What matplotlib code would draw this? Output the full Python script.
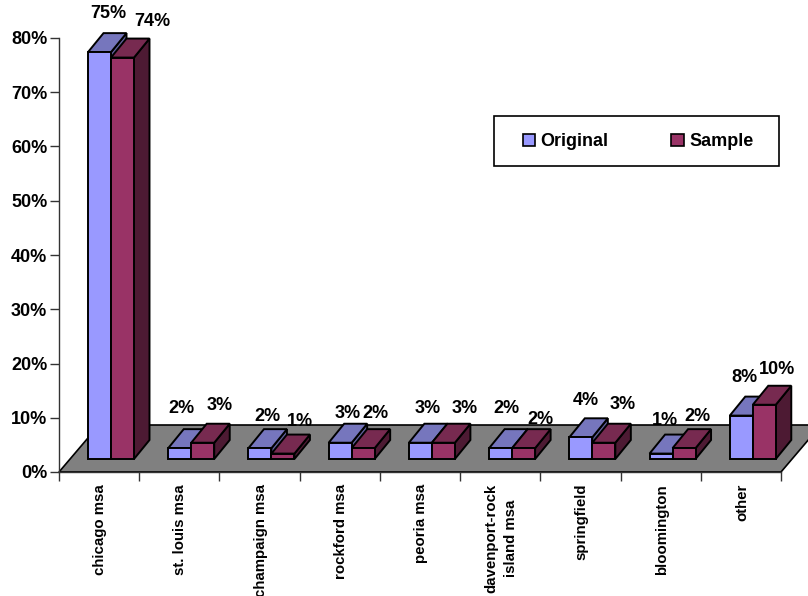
import matplotlib
matplotlib.use('Agg')
import matplotlib.pyplot as plt
from matplotlib.patches import Polygon, Rectangle

plt.rcParams['font.family'] = ['Liberation Sans', 'DejaVu Sans']
plt.rcParams['font.weight'] = 'bold'

categories = ['chicago msa', 'st. louis msa', 'champaign msa', 'rockford msa', 'peoria msa',
              'davenport-rock\nisland msa', 'springfield', 'bloomington', 'other']
original = [75, 2, 2, 3, 3, 2, 4, 1, 8]
sample = [74, 3, 1, 2, 3, 2, 3, 2, 10]
y_ticks = [0, 10, 20, 30, 40, 50, 60, 70, 80]

# label nudges from the top of each bar front, in pixels
original_nudge = [(8.5, 38.5), (2, 39.5), (7, 31.5), (8, 29.5), (7, 34.5), (5.5, 39.5), (5, 36.5), (4, 33.5), (3, 38.5)]
sample_nudge = [(29.5, 36), (17, 37.5), (17, 32), (12, 34.5), (21, 34.5), (16.5, 28.5), (19, 38.5), (13, 31.5), (13, 35.5)]

W, H = 808, 596
PX_X = 722 / 9.0    # pixels per category
PX_Y = 434 / 80.0   # pixels per percent

BAR_START = 29 / PX_X
BAR_W = 23 / PX_X
BASE = 13 / PX_Y
DEPTH_X = 15.5 / PX_X
DEPTH_Y = 19 / PX_Y
FLOOR_X = 40 / PX_X
FLOOR_Y = 47 / PX_Y


def add_box(ax, x, value, colors):
    # one extruded bar: side and top first, then the front face
    x0, x1 = x, x + BAR_W
    y0, y1 = BASE, BASE + value
    front = [(x0, y0), (x1, y0), (x1, y1), (x0, y1)]
    top = [(x0, y1), (x1, y1), (x1 + DEPTH_X, y1 + DEPTH_Y), (x0 + DEPTH_X, y1 + DEPTH_Y)]
    side = [(x1, y0), (x1 + DEPTH_X, y0 + DEPTH_Y), (x1 + DEPTH_X, y1 + DEPTH_Y), (x1, y1)]
    for pts, c in zip((side, top, front), colors):
        ax.add_patch(Polygon(pts, closed=True, facecolor=c, edgecolor='black', lw=1.4,
                             joinstyle='miter', clip_on=False, zorder=3))


def main():
    fig = plt.figure(figsize=(W / 100.0, H / 100.0), dpi=100)
    ax = fig.add_axes([59.0 / W, (H - 472.0) / H, 722.0 / W, 434.0 / H])
    ax.set_xlim(0, 9)
    ax.set_ylim(0, 80)

    # grey floor behind the bars, runs off the right edge of the figure
    floor = [(0, 0), (9, 0), (9 + FLOOR_X, FLOOR_Y), (FLOOR_X, FLOOR_Y)]
    ax.add_patch(Polygon(floor, closed=True, facecolor='#808080', edgecolor='black', lw=1.2,
                         clip_on=False, zorder=1))

    for i in range(len(categories)):
        x = i + BAR_START
        add_box(ax, x, original[i], ('#5f5f99', '#7676bd', '#9999ff'))
        add_box(ax, x + BAR_W, sample[i], ('#4d1a33', '#772a50', '#993366'))

    for i in range(len(categories)):
        pairs = ((original, original_nudge[i], BAR_START + BAR_W / 2),
                 (sample, sample_nudge[i], BAR_START + BAR_W * 1.5))
        for vals, nudge, off in pairs:
            ax.annotate('%d%%' % vals[i], xy=(i + off, BASE + vals[i]), xytext=nudge,
                        textcoords='offset pixels', ha='center', va='center',
                        fontsize=13, annotation_clip=False, zorder=5)

    for s in ('top', 'right'):
        ax.spines[s].set_visible(False)
    for s in ('left', 'bottom'):
        ax.spines[s].set_color('#333333')
        ax.spines[s].set_linewidth(1.0)
        ax.spines[s].set_zorder(2)
    ax.patch.set_visible(False)

    ax.set_yticks(y_ticks)
    ax.set_yticklabels(['%d%%' % v for v in y_ticks], fontsize=13)
    ax.tick_params(axis='y', length=6.5, width=1.0, color='#333333', pad=2)
    ax.set_xticks(range(len(categories) + 1))
    ax.set_xticklabels([])
    ax.tick_params(axis='x', length=6.5, width=1.0, color='#333333')

    for i, name in enumerate(categories):
        ax.annotate(name, xy=(i + 0.5, 0), xytext=(1, -12), textcoords='offset pixels',
                    rotation=90, ha='center', va='top', multialignment='center',
                    fontsize=10.8, annotation_clip=False, linespacing=1.45)

    fig.add_artist(Rectangle((494.0 / W, (H - 166.0) / H), 285.0 / W, 50.0 / H, transform=fig.transFigure,
                             facecolor='white', edgecolor='black', lw=1.2))
    handles = [Rectangle((0, 0), 1, 1, facecolor='#9999ff', edgecolor='black', lw=1.2),
               Rectangle((0, 0), 1, 1, facecolor='#993366', edgecolor='black', lw=1.2)]
    fig.legend(handles, ['Original', 'Sample'], ncol=2, frameon=False, fontsize=13,
               loc='center', bbox_to_anchor=(638 / W, (H - 141.5) / H),
               handlelength=0.67, handleheight=0.67, handletextpad=0.3, columnspacing=3.5,
               borderpad=0, borderaxespad=0)

    fig.savefig('out.png', dpi=100)


main()
